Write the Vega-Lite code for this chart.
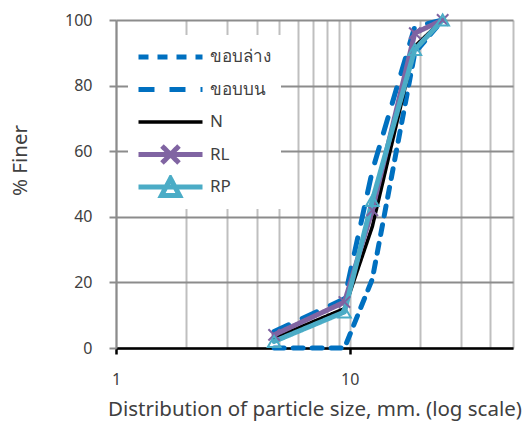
{
  "$schema": "https://vega.github.io/schema/vega-lite/v6.json",
  "width": 397,
  "height": 328,
  "autosize": {"type": "none"},
  "padding": {"left": 116, "top": 20, "right": 11, "bottom": 82},
  "background": "white",
  "config": {
    "view": {"stroke": null},
    "font": "Noto Sans",
    "axis": {
      "labelFont": "Noto Sans",
      "labelFontSize": 16,
      "labelColor": "#404040",
      "titleFont": "Noto Sans",
      "titleFontSize": 20.5,
      "titleFontWeight": "normal",
      "titleColor": "#404040"
    },
    "legend": {"labelFont": "Noto Sans", "labelFontSize": 17, "labelColor": "#404040"}
  },
  "data": {
    "values": [
      {"series": "ขอบล่าง", "size": 4.75, "pct": 0},
      {"series": "ขอบล่าง", "size": 9.5, "pct": 0},
      {"series": "ขอบล่าง", "size": 12.5, "pct": 21},
      {"series": "ขอบล่าง", "size": 19, "pct": 90},
      {"series": "ขอบล่าง", "size": 25, "pct": 100},
      {"series": "ขอบบน", "size": 4.75, "pct": 5},
      {"series": "ขอบบน", "size": 9.5, "pct": 15},
      {"series": "ขอบบน", "size": 12.5, "pct": 54},
      {"series": "ขอบบน", "size": 19, "pct": 98},
      {"series": "ขอบบน", "size": 25, "pct": 100},
      {"series": "N", "size": 4.75, "pct": 3},
      {"series": "N", "size": 9.5, "pct": 12},
      {"series": "N", "size": 12.5, "pct": 37},
      {"series": "N", "size": 19, "pct": 92},
      {"series": "N", "size": 25, "pct": 100},
      {"series": "RL", "size": 4.75, "pct": 4},
      {"series": "RL", "size": 9.5, "pct": 14},
      {"series": "RL", "size": 12.5, "pct": 42},
      {"series": "RL", "size": 19, "pct": 96},
      {"series": "RL", "size": 25, "pct": 100},
      {"series": "RP", "size": 4.75, "pct": 2},
      {"series": "RP", "size": 9.5, "pct": 11},
      {"series": "RP", "size": 12.5, "pct": 45},
      {"series": "RP", "size": 19, "pct": 91},
      {"series": "RP", "size": 25, "pct": 100}
    ]
  },
  "encoding": {
    "x": {
      "field": "size",
      "type": "quantitative",
      "scale": {"type": "log", "domain": [1, 50]},
      "axis": {
        "title": "Distribution of particle size, mm. (log scale)",
        "values": [1, 2, 3, 4, 5, 6, 7, 8, 9, 10, 20, 30, 40, 50],
        "labelExpr": "datum.value === 1 || datum.value === 10 ? format(datum.value, 'd') : ''",
        "labelPadding": 17,
        "labelFlush": false,
        "tickSize": {"condition": {"test": "datum.value === 1 || datum.value === 10", "value": 6}, "value": 0},
        "tickColor": "#000000",
        "tickWidth": 2.5,
        "domainColor": "#000000",
        "domainWidth": 2.5,
        "gridColor": "#BFBFBF",
        "gridWidth": 2,
        "titlePadding": 12
      }
    },
    "y": {
      "field": "pct",
      "type": "quantitative",
      "scale": {"domain": [0, 100]},
      "axis": {
        "title": "% Finer",
        "values": [0, 20, 40, 60, 80, 100],
        "tickSize": 7,
        "tickColor": "#8C8C8C",
        "tickWidth": 2,
        "domainColor": "#8C8C8C",
        "domainWidth": 2,
        "gridColor": "#8C8C8C",
        "gridWidth": 2,
        "labelPadding": 17,
        "titlePadding": 34,
        "titleY": 140
      }
    }
  },
  "layer": [
    {
      "mark": {"type": "line", "strokeCap": "round", "strokeJoin": "round"},
      "encoding": {
        "color": {
          "field": "series",
          "type": "nominal",
          "scale": {
            "domain": ["ขอบล่าง", "ขอบบน", "N", "RL", "RP"],
            "range": ["#0070C0", "#0070C0", "#000000", "#8064A2", "#4BACC6"]
          },
          "legend": {
            "title": null,
            "orient": "none",
            "legendX": 12,
            "legendY": 15,
            "fillColor": "white",
            "padding": 10,
            "rowPadding": 8.5,
            "clipHeight": 24,
            "symbolSize": 100,
            "symbolStrokeWidth": 4.5,
            "symbolOffset": 24,
            "labelOffset": 31,
            "symbolType": {"expr": "datum.value === 'RL' ? 'M-6.4,0L6.4,0M-1.7,-1.7L1.7,1.7M-1.7,1.7L1.7,-1.7' : datum.value === 'RP' ? 'M-6.4,0L6.4,0M0,-1.7L1.8,1.7L-1.8,1.7Z' : 'M-6.4,0L6.4,0'"},
            "symbolDash": {"expr": "datum.value === 'ขอบล่าง' ? [16, 4] : datum.value === 'ขอบบน' ? [22, 14] : [1, 0]"},
            "symbolFillColor": {"expr": "datum.value === 'RP' ? 'white' : 'transparent'"}
          }
        },
        "strokeDash": {
          "field": "series",
          "type": "nominal",
          "scale": {
            "domain": ["ขอบล่าง", "ขอบบน", "N", "RL", "RP"],
            "range": [[10, 9], [16, 15], [1, 0], [1, 0], [1, 0]]
          },
          "legend": null
        },
        "strokeWidth": {
          "field": "series",
          "type": "nominal",
          "scale": {
            "type": "ordinal",
            "domain": ["ขอบล่าง", "ขอบบน", "N", "RL", "RP"],
            "range": [5, 5, 3.5, 5, 5]
          },
          "legend": null
        }
      }
    },
    {
      "transform": [{"filter": "datum.series === 'RL'"}],
      "mark": {"type": "point", "shape": "M-1,-1L1,1M-1,1L1,-1", "size": 130, "stroke": "#7F63A1", "strokeWidth": 2, "filled": false, "opacity": 1}
    },
    {
      "transform": [{"filter": "datum.series === 'RP'"}],
      "mark": {"type": "point", "shape": "triangle-up", "size": 160, "stroke": "#4BACC6", "strokeWidth": 2, "filled": false, "opacity": 1}
    }
  ]
}
